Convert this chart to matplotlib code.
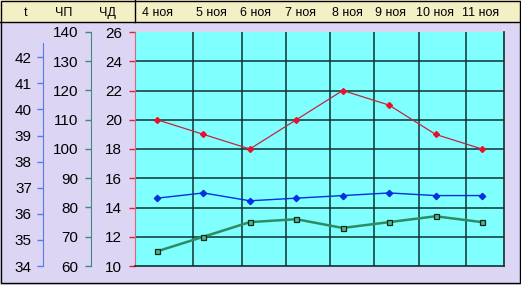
import matplotlib
matplotlib.use("Agg")
import matplotlib.pyplot as plt
from matplotlib.patches import Rectangle
from matplotlib.transforms import blended_transform_factory

plt.rcParams['font.family'] = ['Liberation Sans', 'DejaVu Sans']

# data
days = ['4 ноя', '5 ноя', '6 ноя', '7 ноя', '8 ноя', '9 ноя', '10 ноя', '11 ноя']
resp_rate = [20, 19, 18, 20, 22, 21, 19, 18]                  # ЧД
pulse = [65, 70, 75, 76, 73, 75, 77, 75]                        # ЧП
temp = [36.6, 36.8, 36.5, 36.6, 36.7, 36.8, 36.7, 36.7]        # t
t_ticks = [34, 35, 36, 37, 38, 39, 40, 41, 42]
pulse_ticks = [60, 70, 80, 90, 100, 110, 120, 130, 140]
resp_ticks = [10, 12, 14, 16, 18, 20, 22, 24, 26]

# colours
LAV = '#DCD6F4'
HEADER = '#F4F0C6'
CYAN = '#80FFFF'
GRID = '#0F3030'
RED = '#C02840'
BLUE = '#0030E0'
GREEN = '#2E8C64'

W, H = 521, 285
fig = plt.figure(figsize=(W / 100, H / 100), dpi=100, facecolor=LAV)


def px_box(x0, y0, x1, y1):
    return [x0 / W, 1 - y1 / H, (x1 - x0) / W, (y1 - y0) / H]


# background: header row and frame, in pixel coordinates
bg = fig.add_axes([0, 0, 1, 1], zorder=0)
bg.set_xlim(0, W)
bg.set_ylim(H, 0)
bg.axis('off')
bg.add_patch(Rectangle((0, 0), W, 22, fc=HEADER, ec='none'))
bg.plot([0, W], [22, 22], color='k', lw=1)
bg.plot([135, 135], [0, 22], color='k', lw=1)
bg.add_patch(Rectangle((1, 0.5), W - 2.5, H - 2.5, fill=False, ec='k', lw=1))
for x, lab in [(26, 't'), (64, 'ЧП'), (107, 'ЧД')]:
    bg.text(x, 13, lab, ha='center', va='center', fontsize=9)

box = px_box(135, 32, 504, 266)
xlim = (-0.474, 7.474)
xs = list(range(len(days)))

# main plot area, ЧД scale
ax = fig.add_axes(box, zorder=1)
ax.set_facecolor(CYAN)
ax.set_xlim(*xlim)
ax.set_ylim(resp_ticks[0], resp_ticks[-1])
ax.set_xticks([])
ax.set_yticks(resp_ticks)
ax.tick_params(axis='y', color='#E0203C', length=4.5, width=1, labelsize=11, pad=5)
ax.spines['top'].set_visible(False)
ax.spines['left'].set_color('#E06080')
for s in ('right', 'bottom'):
    ax.spines[s].set_color(GRID)
    ax.spines[s].set_linewidth(1.2)
for y in resp_ticks[1:-1]:
    ax.axhline(y, color=GRID, lw=1.1, zorder=1)
col_edges = [0.775, 1.83, 2.78, 3.73, 4.67, 5.64, 6.66]
for x in col_edges:
    ax.axvline(x, color=GRID, lw=1.1, zorder=1)
ax.plot(xs, resp_rate, color=RED, lw=0.9, marker='D', ms=3,
        mfc='#E8102A', mec='#E8102A', zorder=3)

# dates in the header
date_shift = [0.02, 0.17, 0.12, 0.10, 0.10, 0.04, -0.01, -0.03]
tr = blended_transform_factory(ax.transData, ax.transAxes)
for i, d in enumerate(days):
    ax.text(xs[i] + date_shift[i], 1 + 19 / 234, d, transform=tr,
            ha='center', va='center', fontsize=9, clip_on=False)

# ЧП scale
ax_p = fig.add_axes(box, zorder=2)
ax_p.patch.set_visible(False)
ax_p.set_xlim(*xlim)
ax_p.set_ylim(pulse_ticks[0], pulse_ticks[-1])
ax_p.set_xticks([])
ax_p.set_yticks(pulse_ticks)
for s in ('top', 'right', 'bottom'):
    ax_p.spines[s].set_visible(False)
ax_p.spines['left'].set_position(('axes', (91 - 135) / 369))
ax_p.spines['left'].set_color('#3C8C78')
ax_p.tick_params(axis='y', color='#3C8C78', length=4, width=1, labelsize=11, pad=5)
ax_p.plot(xs, pulse, color=GREEN, lw=1.8, marker='s', ms=3.6,
          mfc='#5AAE88', mec='#0A2A1A', mew=0.9, zorder=3)

# t scale
ax_t = fig.add_axes(box, zorder=3)
ax_t.patch.set_visible(False)
ax_t.set_xlim(*xlim)
ax_t.set_ylim(34, 42.97)
ax_t.set_xticks([])
ax_t.set_yticks(t_ticks)
for s in ('top', 'right', 'bottom'):
    ax_t.spines[s].set_visible(False)
ax_t.spines['left'].set_position(('axes', (43 - 135) / 369))
ax_t.spines['left'].set_color('#5A78F0')
ax_t.spines['left'].set_bounds(34, 42.53)
ax_t.tick_params(axis='y', color='#5A78F0', length=4, width=1, labelsize=11, pad=4)
ax_t.plot(xs, temp, color=BLUE, lw=1.0, marker='D', ms=3.2,
          mfc=BLUE, mec=BLUE, zorder=3)

fig.savefig('out.png', dpi=100, facecolor=LAV)
